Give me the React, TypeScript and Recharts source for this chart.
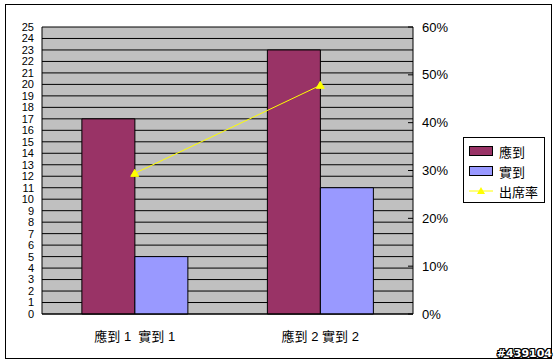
import {
  Bar,
  CartesianGrid,
  ComposedChart,
  Line,
  XAxis,
  YAxis,
} from 'recharts';

const categories = ['應到 1\u00a0\u00a0實到 1', '應到 2 實到 2'];
const expected = [17, 23];
const actual = [5, 11];
const attendanceRate = [29.4, 47.8];

const countTicks = Array.from({ length: 26 }, (_, i) => i);
const rateTicks = [0, 10, 20, 30, 40, 50, 60];

const FONT = '"Liberation Sans", "Noto Sans CJK TC", sans-serif';
const MAROON = '#993366';
const LILAC = '#9999FF';
const YELLOW = '#FFFF00';

const data = categories.map((name, i) => ({
  name,
  expected: expected[i],
  actual: actual[i],
  rate: attendanceRate[i],
}));

function Triangle(props: any) {
  const { cx, cy } = props;
  if (cx == null || cy == null) return null;
  return (
    <polygon
      points={`${cx},${cy - 4} ${cx - 4},${cy + 3} ${cx + 4},${cy + 3}`}
      fill={YELLOW}
      stroke={YELLOW}
    />
  );
}

function LegendBox() {
  const row = { display: 'flex', alignItems: 'center', height: 20 } as const;
  const text = { marginLeft: 6, fontSize: 13, color: '#000' };
  return (
    <div
      style={{
        position: 'absolute',
        left: 463,
        top: 137,
        width: 82,
        height: 66,
        border: '1px solid #000',
        background: '#fff',
        padding: '3px 0 0 5px',
        boxSizing: 'border-box',
        fontFamily: FONT,
      }}
    >
      <div style={row}>
        <span style={{ width: 22, height: 8, background: MAROON, border: '1px solid #000' }} />
        <span style={text}>應到</span>
      </div>
      <div style={row}>
        <span style={{ width: 22, height: 8, background: LILAC, border: '1px solid #000' }} />
        <span style={text}>實到</span>
      </div>
      <div style={row}>
        <svg width={24} height={10}>
          <line x1={0} y1={5} x2={24} y2={5} stroke={YELLOW} />
          <polygon points="12,1 8,8 16,8" fill={YELLOW} />
        </svg>
        <span style={text}>出席率</span>
      </div>
    </div>
  );
}

export default function App() {
  return (
    <div style={{ position: 'absolute', left: 0, top: 0, width: 555, height: 364, background: '#fff' }}>
      <div
        style={{
          position: 'absolute',
          left: 5,
          top: 4,
          width: 545,
          height: 353,
          border: '1px solid #000',
        }}
      />
      <div style={{ position: 'absolute', left: 0, top: 0 }}>
        <ComposedChart
          width={555}
          height={364}
          data={data}
          margin={{ top: 27, right: 0, left: 0, bottom: 0 }}
          barCategoryGap="21.5%"
          barGap={0}
        >
          <CartesianGrid
            vertical={false}
            stroke="#000"
            strokeOpacity={1}
            fill="#C0C0C0"
            fillOpacity={1}
            yAxisId="left"
          />
          <XAxis
            dataKey="name"
            height={50}
            axisLine={{ stroke: '#000' }}
            tickLine={false}
            tickMargin={12}
            tick={{ fill: '#000', fontSize: 13, fontFamily: FONT }}
          />
          <YAxis
            yAxisId="left"
            width={42}
            domain={[0, 25]}
            ticks={countTicks}
            interval={0}
            axisLine={{ stroke: '#000' }}
            tickLine={false}
            tick={{ fill: '#000', fontSize: 11, fontFamily: FONT }}
          />
          <YAxis
            yAxisId="right"
            orientation="right"
            width={142}
            domain={[0, 60]}
            ticks={rateTicks}
            interval={0}
            tickFormatter={(v) => `${v}%`}
            axisLine={{ stroke: '#000' }}
            tickSize={-5}
            tickMargin={14}
            tickLine={{ stroke: '#000' }}
            tick={{ fill: '#000', fontSize: 13, fontFamily: FONT, textAnchor: 'start' }}
          />
          <Bar
            yAxisId="left"
            dataKey="expected"
            name="應到"
            fill={MAROON}
            stroke="#000"
            isAnimationActive={false}
          />
          <Bar
            yAxisId="left"
            dataKey="actual"
            name="實到"
            fill={LILAC}
            stroke="#000"
            isAnimationActive={false}
          />
          <Line
            yAxisId="right"
            dataKey="rate"
            name="出席率"
            stroke={YELLOW}
            strokeWidth={1}
            dot={<Triangle />}
            activeDot={false}
            isAnimationActive={false}
          />
        </ComposedChart>
      </div>
      <LegendBox />
      <div
        style={{
          position: 'absolute',
          right: 3,
          bottom: 4,
          fontFamily: '"DejaVu Sans", sans-serif',
          fontWeight: 'bold',
          fontSize: 11,
          color: '#fff',
          textShadow:
            '1px 0 0 #000, -1px 0 0 #000, 0 1px 0 #000, 0 -1px 0 #000, 1px 1px 0 #000, -1px -1px 0 #000, 1px -1px 0 #000, -1px 1px 0 #000',
        }}
      >
        #439104
      </div>
    </div>
  );
}
